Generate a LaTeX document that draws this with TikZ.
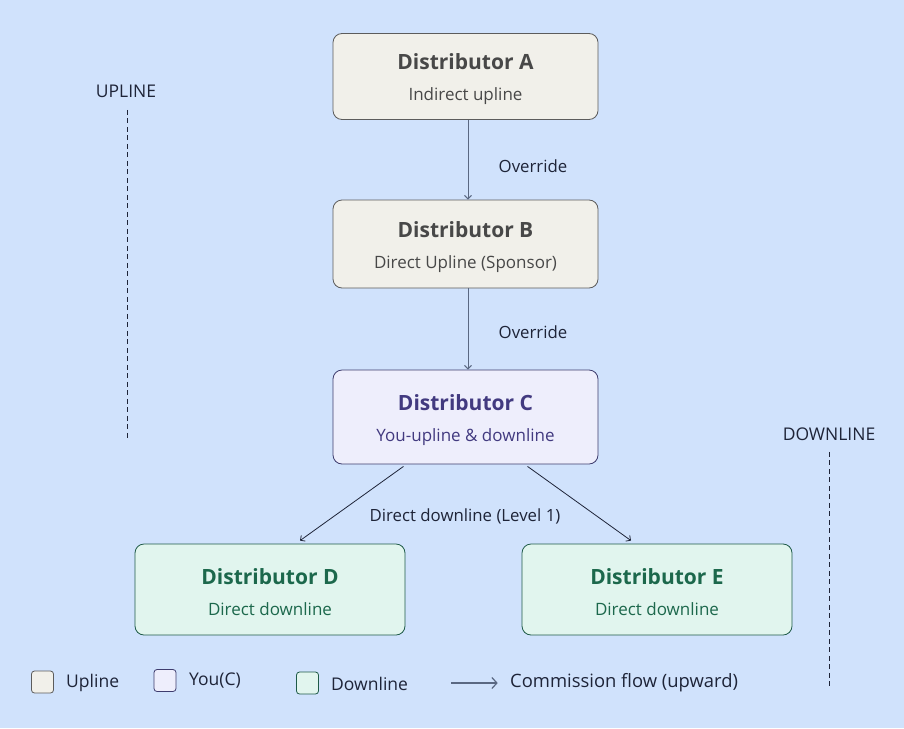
\documentclass[tikz,border=0pt]{standalone}
\usepackage{fontspec}
\setmainfont{Open Sans}
\usepackage{tikz}
\usetikzlibrary{arrows.meta}

\definecolor{bgblue}{RGB}{208,226,252}
\definecolor{upfill}{RGB}{241,240,234}
\definecolor{updraw}{RGB}{92,92,92}
\definecolor{uptext}{RGB}{72,72,72}
\definecolor{youfill}{RGB}{238,238,252}
\definecolor{youdraw}{RGB}{62,60,110}
\definecolor{youtext}{RGB}{66,58,128}
\definecolor{downfill}{RGB}{225,245,238}
\definecolor{downdraw}{RGB}{30,90,72}
\definecolor{downtext}{RGB}{28,104,76}
\definecolor{arrowcol}{RGB}{30,36,56}
\definecolor{keyarrow}{RGB}{90,104,130}

\tikzset{
  distbox/.style={draw, rounded corners=9pt, line width=0.8pt, minimum width=265pt,
    minimum height=86pt, align=center, inner sep=0pt, font=\fontsize{17}{31}\selectfont},
  flow/.style={-{Straight Barb[length=3.5pt,width=7pt]}, arrowcol, line width=0.8pt},
  lbl/.style={font=\fontsize{16.8}{20}\selectfont, text=arrowcol},
  keytxt/.style={font=\fontsize{17.5}{21}\selectfont, text=arrowcol, anchor=west},
  keybox/.style={draw, rounded corners=3pt, line width=0.8pt, minimum width=22pt, minimum height=22pt},
  sideline/.style={arrowcol, line width=0.8pt, dash pattern=on 5pt off 3.5pt}
}

\newcommand{\distname}[2]{\rule{0pt}{22pt}{\fontsize{21}{31}\selectfont\bfseries #1}\\#2}

\begin{document}
\begin{tikzpicture}[x=1pt, y=-1pt]
\fill [bgblue] (0,0) rectangle (904,728);

% distributor boxes
\node [distbox, fill=upfill, draw=updraw, text=uptext] (distA) at (465.5,76.5) {\distname{Distributor A}{Indirect upline}};
\node [distbox, fill=upfill, draw=updraw, text=uptext, minimum height=88pt] (distB) at (465.5,244) {\distname{Distributor B}{Direct Upline (Sponsor)}};
\node [distbox, fill=youfill, draw=youdraw, text=youtext, minimum height=94pt] (distC) at (465.5,417) {\distname{Distributor C}{You-upline \& downline}};
\node [distbox, fill=downfill, draw=downdraw, text=downtext, minimum width=270pt, minimum height=91pt] (distD) at (270,589.5) {\distname{Distributor D}{Direct downline}};
\node [distbox, fill=downfill, draw=downdraw, text=downtext, minimum width=270pt, minimum height=91pt] (distE) at (657,589.5) {\distname{Distributor E}{Direct downline}};

% arrows
\draw [flow, keyarrow, line width=1pt] ([xshift=2.5pt]distA.south) -- ([xshift=2.5pt]distB.north);
\node [lbl] (ovrA) at (533,166) {Override};
\draw [flow, keyarrow, line width=1pt] ([xshift=2.5pt]distB.south) -- ([xshift=2.5pt]distC.north);
\node [lbl] (ovrB) at (533,332) {Override};
\draw [flow] ([xshift=-62pt,yshift=-2pt]distC.south) -- ([xshift=30pt,yshift=3pt]distD.north);
\draw [flow] ([xshift=62pt,yshift=-2pt]distC.south) -- ([xshift=-26pt,yshift=3pt]distE.north);
\node [lbl] (lvl) at (465,516) {Direct downline (Level 1)};

% side markers
\node [keytxt, anchor=center] (upl) at (126,91) {UPLINE};
\coordinate (uplend) at (127,440);
\draw [sideline] ([xshift=1pt,yshift=-9pt]upl.south) -- (uplend);
\node [keytxt, anchor=center] (dnl) at (829,434) {DOWNLINE};
\coordinate (dnlend) at (829,686);
\draw [sideline] ([yshift=-8pt]dnl.south) -- (dnlend);

% legend
\node [keybox, fill=upfill, draw=updraw] (keyup) at (42.5,682) {};
\node [keytxt] (keyuptxt) at (62.7,683) {Upline};
\node [keybox, fill=youfill, draw=youdraw] (keyyou) at (165,680.5) {};
\node [keytxt] (keyyoutxt) at (185.7,681) {You(C)};
\node [keybox, fill=downfill, draw=downdraw] (keydown) at (307.5,683) {};
\node [keytxt] (keydowntxt) at (327.7,684) {Downline};
\coordinate (keyflow) at (451,683);
\node [keytxt, font=\fontsize{18.4}{22}\selectfont] (keyflowtxt) at (506.7,683) {Commission flow (upward)};
\draw [-{Straight Barb[length=5pt,width=11pt]}, keyarrow, line width=1.2pt] (keyflow) -- ([xshift=-9pt]keyflowtxt.west);
\end{tikzpicture}
\end{document}
